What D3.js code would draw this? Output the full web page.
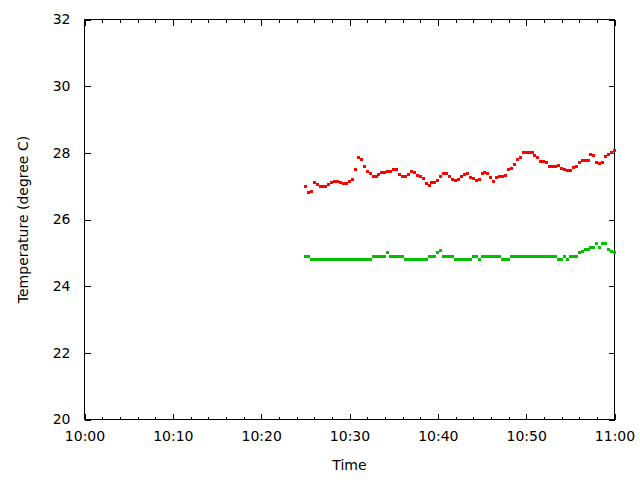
<!DOCTYPE html>
<html>
<head>
<meta charset="utf-8">
<script src="https://cdn.jsdelivr.net/npm/d3@7"></script>
<style>
  html, body { margin: 0; padding: 0; background: #fff; }
  svg { display: block; }
  text { font-family: "DejaVu Sans", sans-serif; font-size: 14px; fill: #000; }
</style>
</head>
<body>
<svg id="chart" width="640" height="480"></svg>
<script>
// ---------- data ----------
const times = [
  "10:25:00","10:25:20","10:25:40","10:26:00","10:26:20","10:26:40","10:27:00","10:27:20","10:27:40","10:28:00","10:28:20","10:28:40","10:29:00","10:29:20","10:29:40",
  "10:30:00","10:30:20","10:30:40","10:31:00","10:31:20","10:31:40","10:32:00","10:32:20","10:32:40","10:33:00","10:33:20","10:33:40","10:34:00","10:34:20","10:34:40",
  "10:35:00","10:35:20","10:35:40","10:36:00","10:36:20","10:36:40","10:37:00","10:37:20","10:37:40","10:38:00","10:38:20","10:38:40","10:39:00","10:39:20","10:39:40",
  "10:40:00","10:40:20","10:40:40","10:41:00","10:41:20","10:41:40","10:42:00","10:42:20","10:42:40","10:43:00","10:43:20","10:43:40","10:44:00","10:44:20","10:44:40",
  "10:45:00","10:45:20","10:45:40","10:46:00","10:46:20","10:46:40","10:47:00","10:47:20","10:47:40","10:48:00","10:48:20","10:48:40","10:49:00","10:49:20","10:49:40",
  "10:50:00","10:50:20","10:50:40","10:51:00","10:51:20","10:51:40","10:52:00","10:52:20","10:52:40","10:53:00","10:53:20","10:53:40","10:54:00","10:54:20","10:54:40",
  "10:55:00","10:55:20","10:55:40","10:56:00","10:56:20","10:56:40","10:57:00","10:57:20","10:57:40","10:58:00","10:58:20","10:58:40","10:59:00","10:59:20","10:59:40",
  "11:00:00"
];
const sensorRed = [
  27.0,26.8,26.85,27.1,27.05,27.0,27.0,27.0,27.05,27.1,27.15,27.15,27.1,27.07,27.07,
  27.15,27.2,27.5,27.85,27.8,27.6,27.45,27.37,27.3,27.3,27.35,27.4,27.4,27.45,27.45,
  27.5,27.5,27.35,27.3,27.3,27.35,27.43,27.4,27.33,27.3,27.22,27.08,27.03,27.1,27.1,
  27.17,27.3,27.37,27.37,27.3,27.2,27.17,27.2,27.3,27.35,27.38,27.25,27.22,27.17,27.2,
  27.38,27.4,27.38,27.25,27.15,27.25,27.3,27.3,27.32,27.5,27.52,27.65,27.8,27.87,28.02,
  28.0,28.02,28.0,27.92,27.85,27.75,27.75,27.7,27.6,27.6,27.6,27.63,27.52,27.5,27.47,
  27.47,27.55,27.6,27.7,27.77,27.77,27.77,27.95,27.92,27.7,27.67,27.7,27.9,27.95,28.0,
  28.07
];
const sensorGreen = [
  24.9,24.9,24.8,24.8,24.8,24.8,24.8,24.8,24.8,24.8,24.8,24.8,24.8,24.8,24.8,
  24.8,24.8,24.8,24.8,24.8,24.8,24.8,24.8,24.9,24.9,24.9,24.9,24.9,25.0,24.9,
  24.9,24.9,24.9,24.9,24.8,24.8,24.8,24.8,24.8,24.8,24.8,24.8,24.9,24.9,24.9,
  25.0,25.07,24.9,24.9,24.9,24.9,24.8,24.8,24.8,24.8,24.8,24.8,24.9,24.9,24.8,
  24.9,24.9,24.9,24.9,24.9,24.9,24.9,24.8,24.8,24.8,24.9,24.9,24.9,24.9,24.9,
  24.9,24.9,24.9,24.9,24.9,24.9,24.9,24.9,24.9,24.9,24.9,24.8,24.8,24.9,24.8,
  24.9,24.9,24.9,25.0,25.04,25.1,25.1,25.17,25.17,25.27,25.17,25.27,25.27,25.1,25.04,
  25.0
];
const xTickLabels = ["10:00","10:10","10:20","10:30","10:40","10:50","11:00"];
const xMinorLabels = ["10:02","10:04","10:06","10:08","10:12","10:14","10:16","10:18","10:22","10:24","10:26","10:28",
  "10:32","10:34","10:36","10:38","10:42","10:44","10:46","10:48","10:52","10:54","10:56","10:58"];
const yTicks = [20, 22, 24, 26, 28, 30, 32];
const xTitle = "Time";
const yTitle = "Temperature (degree C)";
const seriesColors = ["#ff0000", "#00c000"];

// ---------- chart ----------
const FONT = '"DejaVu Sans", sans-serif';
const parseT = d3.timeParse("%H:%M:%S");
const parseHM = d3.timeParse("%H:%M");
const L = 84.5, R = 614.5, T = 19.5, B = 419.5;

const svg = d3.select("#chart");
const x = d3.scaleTime().domain([parseHM("10:00"), parseHM("11:00")]).range([L, R]);
const y = d3.scaleLinear().domain([20, 32]).range([B, T]);

const majorX = xTickLabels.map(parseHM);
const minorX = xMinorLabels.map(parseHM);
const fmt = d3.timeFormat("%H:%M");

function styleAxis(g) {
  g.select(".domain").remove();
  g.selectAll(".tick line").attr("stroke", "#000").attr("shape-rendering", "crispEdges");
  g.selectAll(".tick text").style("font-family", FONT).style("font-size", "14px").attr("fill", "#000");
}

svg.append("g").attr("transform", `translate(0,${B})`)
  .call(d3.axisBottom(x).tickValues(majorX).tickFormat(fmt).tickSizeInner(-6).tickSizeOuter(0).tickPadding(12))
  .call(styleAxis);
svg.append("g").attr("transform", `translate(0,${B})`)
  .call(d3.axisBottom(x).tickValues(minorX).tickFormat("").tickSizeInner(-3).tickSizeOuter(0))
  .call(styleAxis);
svg.append("g").attr("transform", `translate(0,${T})`)
  .call(d3.axisTop(x).tickValues(majorX).tickFormat("").tickSizeInner(-6).tickSizeOuter(0))
  .call(styleAxis);
svg.append("g").attr("transform", `translate(0,${T})`)
  .call(d3.axisTop(x).tickValues(minorX).tickFormat("").tickSizeInner(-3).tickSizeOuter(0))
  .call(styleAxis);
svg.append("g").attr("transform", `translate(${L},0)`)
  .call(d3.axisLeft(y).tickValues(yTicks).tickFormat(d3.format("d")).tickSizeInner(-6).tickSizeOuter(0).tickPadding(14))
  .call(styleAxis);
svg.append("g").attr("transform", `translate(${R},0)`)
  .call(d3.axisRight(y).tickValues(yTicks).tickFormat("").tickSizeInner(-6).tickSizeOuter(0))
  .call(styleAxis);

svg.append("rect").attr("x", L).attr("y", T).attr("width", R - L).attr("height", B - T)
  .attr("fill", "none").attr("stroke", "#000").attr("stroke-width", 1).attr("shape-rendering", "crispEdges");

const series = [sensorRed, sensorGreen];
const ps = 3;
series.forEach((vals, i) => {
  svg.append("g").selectAll("rect").data(vals).join("rect")
    .attr("x", (d, j) => Math.round(x(parseT(times[j])) - ps / 2))
    .attr("y", d => Math.round(y(d) - ps / 2))
    .attr("width", ps).attr("height", ps)
    .attr("fill", seriesColors[i])
    .attr("shape-rendering", "crispEdges");
});

svg.append("text").attr("x", (L + R) / 2).attr("y", 470).attr("text-anchor", "middle").text(xTitle);
svg.append("text").attr("transform", `translate(28,${(T + B) / 2}) rotate(-90)`).attr("text-anchor", "middle").text(yTitle);
</script>
</body>
</html>
